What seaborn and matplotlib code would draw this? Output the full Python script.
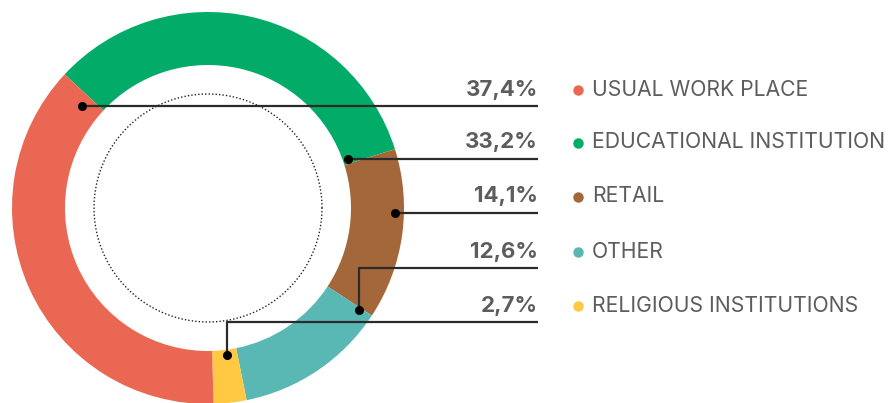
import numpy as np
import matplotlib
matplotlib.use("Agg")
import matplotlib.pyplot as plt
import seaborn as sns

# data, in legend order
categories = ["USUAL WORK PLACE", "EDUCATIONAL INSTITUTION", "RETAIL", "OTHER",
              "RELIGIOUS INSTITUTIONS"]
shares = [37.4, 33.2, 14.1, 12.6, 2.7]
share_labels = ["37,4%", "33,2%", "14,1%", "12,6%", "2,7%"]
colors = ["#EA6853", "#02AB67", "#A4673A", "#5AB8B4", "#FFC943"]

# drawing order around the ring (clockwise from upper left)
ring_order = [1, 2, 3, 4, 0]

# leader-line anchors: angle on the ring (deg), radius (px), row height (px from top)
anchor_angle = [141, 19.3, -1.5, -34, -82.6]
anchor_radius = [162, 148, 187, 182, 148]
row_y_px = [106, 159, 213, 268, 322]

sns.set_theme(style="white")
plt.rcParams["font.family"] = ["Inter", "DejaVu Sans"]

W, H = 890, 403
fig = plt.figure(figsize=(W / 100, H / 100), dpi=100)
ax = fig.add_axes([0, 0, 1, 1])

cx, cy = 208, H - 208
R_out, R_in = 196, 143

ax.pie([shares[i] for i in ring_order], colors=[colors[i] for i in ring_order],
       startangle=137, counterclock=False, center=(cx, cy), radius=R_out,
       wedgeprops=dict(width=R_out - R_in, linewidth=0), frame=True)

# dotted inner circle
t = np.linspace(0, 2 * np.pi, 400)
ax.plot(cx + 114 * np.cos(t), cy + 114 * np.sin(t), ls=(0, (1, 1.5)), lw=1, color="#222222")

line_end = 538
txt = "#5d5d5d"
for i, cat in enumerate(categories):
    a = np.deg2rad(anchor_angle[i])
    px = cx + anchor_radius[i] * np.cos(a)
    py = cy + anchor_radius[i] * np.sin(a)
    ly = H - row_y_px[i]
    ax.plot([px, px, line_end], [py, ly, ly], color="#2b2b2b", lw=1.6, solid_capstyle="butt")
    ax.plot(px, py, "o", color="black", ms=5.5)
    ty = ly + 16.5
    ax.text(line_end, ty, share_labels[i], ha="right", va="center", fontsize=16,
            fontweight="bold", color=txt)
    ax.plot(578, ty, "o", color=colors[i], ms=6.5)
    ax.text(592, ty, cat, ha="left", va="center", fontsize=15.2, color=txt)

ax.set_xlim(0, W)
ax.set_ylim(0, H)
ax.set_aspect("equal")
ax.axis("off")

fig.savefig("out.png", dpi=100)
